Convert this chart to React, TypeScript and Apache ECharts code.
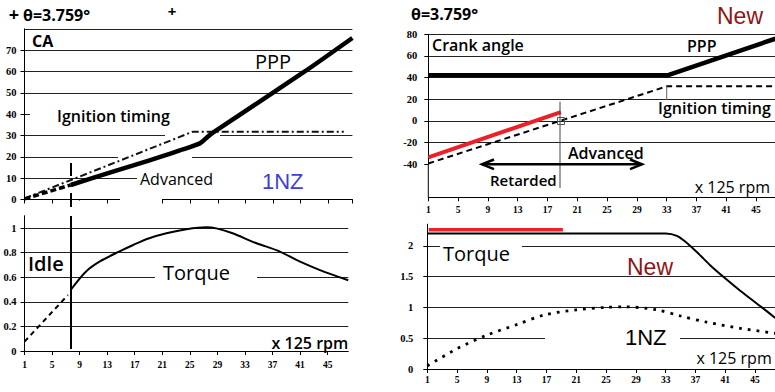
import React, { useEffect, useRef } from 'react';
import * as echarts from 'echarts';

// ---- x axis: engine speed index (x 125 rpm) ----
const rpmTickLabels = [1, 5, 9, 13, 17, 21, 25, 29, 33, 37, 41, 45];

// ---- Left panel: 1NZ engine ----
// crank angle chart (deg)
const nzPppIdleRpm = [1, 7.7];
const nzPppIdleDeg = [0.3, 6.8];
const nzPppRpm = [7.7, 13, 17, 21, 23.5, 25, 26.5, 27.5, 28.3, 41.6, 48.5];
const nzPppDeg = [6.8, 12.2, 16.2, 20.3, 23, 24.6, 26.5, 29.3, 31.3, 60, 75.7];
const nzIgnRpm = [1, 25.4, 47.25];
const nzIgnDeg = [0.5, 31.8, 31.8];
// torque chart (normalised)
const nzTqIdleRpm = [1, 7.3];
const nzTqIdle = [0.076, 0.455];
const nzTqRpm = [7.7, 9.9, 12, 14.8, 16.7, 19, 21.6, 24.5, 27.4, 29, 31.2, 34.5, 38, 41, 43.8, 48];
const nzTq = [0.496, 0.645, 0.73, 0.81, 0.86, 0.915, 0.957, 0.99, 1.006, 0.995, 0.957, 0.88, 0.81, 0.726, 0.66, 0.575];

// ---- Right panel: New engine ----
const newPppRpm = [1, 33.1, 47.6];
const newPppDeg = [42, 42, 76];
const newIgnRpm = [1, 33.1, 47.6];
const newIgnDeg = [-39.5, 32, 32];
const newRetRpm = [1, 18.8];
const newRetDeg = [-33.8, 8];
const newTqRpm = [1, 33, 34.5, 36, 37.5, 39, 40.7, 43, 45.9, 47.7];
const newTq = [2.2, 2.2, 2.16, 2.03, 1.86, 1.68, 1.5, 1.27, 1.0, 0.83];
const newTqRedRpm = [1.2, 19.2];
const newTqRed = [2.26, 2.26];
const nzTqDotRpm = [1, 5, 9, 13, 16.8, 21, 25, 27.5, 31.8, 35, 38.5, 43, 47.7];
const nzTqDot = [0.05, 0.33, 0.55, 0.72, 0.88, 0.96, 1.0, 1.01, 0.96, 0.86, 0.76, 0.66, 0.58];

const toPts = (rpm: number[], val: number[]) => rpm.map((r, i) => [r - 1, val[i]]);

const xLabelFont = { color: '#000', fontFamily: 'Liberation Serif', fontWeight: 'bold' as const, fontSize: 9.5 };
const yLabelFont = { color: '#000', fontFamily: 'Liberation Serif', fontWeight: 'bold' as const, fontSize: 10.5 };

const fmtX = (v: number) => {
  const r = Math.round(v);
  return Math.abs(v - r) < 1e-6 && rpmTickLabels.includes(r + 1) ? String(r + 1) : '';
};

function xAxis(gridIndex: number, max: number, showLabel: boolean, margin: number, offset = 0) {
  return {
    type: 'value', gridIndex, min: 0, max, interval: 4, offset,
    axisLine: { show: true, onZero: false, lineStyle: { color: '#000', width: 1 } },
    axisTick: { show: true, length: 4, lineStyle: { color: '#000' } },
    axisLabel: { show: showLabel, margin, formatter: fmtX, showMaxLabel: false, ...xLabelFont },
    splitLine: { show: false },
  };
}

function yAxis(gridIndex: number, min: number, max: number, interval: number, margin: number, showMaxLabel: boolean, showMaxLine: boolean) {
  return {
    type: 'value', gridIndex, min, max, interval,
    axisLine: { show: true, onZero: false, lineStyle: { color: '#000', width: 1 } },
    axisTick: { show: true, length: 4, lineStyle: { color: '#000' } },
    axisLabel: { margin, showMaxLabel, ...yLabelFont },
    splitLine: { show: true, showMinLine: false, showMaxLine, lineStyle: { color: '#222', width: 1 } },
  };
}

function line(idx: number, data: number[][], lineStyle: any, smooth: number | boolean = false) {
  return {
    type: 'line', xAxisIndex: idx, yAxisIndex: idx, data, symbol: 'none', showSymbol: false,
    smooth, lineStyle: { join: 'round', ...lineStyle }, z: 2, silent: true,
  };
}

function txt(text: string, x: number, y: number, size: number, weight: string | number = 'normal', color = '#000', align = 'left', family = 'Open Sans') {
  return {
    type: 'text', x, y, z: 10,
    style: { text, fontSize: size, fontFamily: family, fontWeight: weight, fill: color, align, verticalAlign: 'middle' },
  };
}
function white(x: number, y: number, w: number, h: number) {
  return { type: 'rect', z: 1, shape: { x, y, width: w, height: h }, style: { fill: '#fff' } };
}
function seg(x1: number, y1: number, x2: number, y2: number, w: number, color = '#000', z = 5) {
  return { type: 'line', z, shape: { x1, y1, x2, y2 }, style: { stroke: color, lineWidth: w } };
}

const option: any = {
  animation: false,
  backgroundColor: '#fff',
  grid: [
    { left: 24.5, top: 28.8, width: 327.9, height: 170.7 },
    { left: 24.5, top: 215.7, width: 323.8, height: 135.3 },
    { left: 428.3, top: 34.3, width: 346.7, height: 129.7 },
    { left: 427.3, top: 224.2, width: 347.7, height: 144.8 },
  ],
  xAxis: [
    xAxis(0, 47.5, false, 8),
    xAxis(1, 47.0, true, 9),
    xAxis(2, 46.54, true, 8, 33.3),
    xAxis(3, 46.67, true, 6),
  ],
  yAxis: [
    yAxis(0, 0, 80, 10, 8, false, true),
    yAxis(1, 0, 1.1, 0.2, 8, false, false),
    yAxis(2, -40, 80, 20, 11, true, true),
    yAxis(3, 0, 2.35, 0.5, 14, false, false),
  ],
  series: [
    // 1NZ crank angle
    line(0, toPts(nzIgnRpm, nzIgnDeg), { color: '#111', width: 2, type: [7, 3, 2, 3] }),
    line(0, toPts(nzPppIdleRpm, nzPppIdleDeg), { color: '#000', width: 3.5, type: [6, 3] }),
    line(0, toPts(nzPppRpm, nzPppDeg), { color: '#000', width: 4.5 }, 0.2),
    // 1NZ torque
    line(1, toPts(nzTqIdleRpm, nzTqIdle), { color: '#000', width: 2, type: [5, 4] }),
    line(1, toPts(nzTqRpm, nzTq), { color: '#000', width: 2 }, 0.3),
    // New crank angle
    line(2, toPts(newIgnRpm, newIgnDeg), { color: '#000', width: 2, type: [6, 4] }),
    line(2, toPts(newRetRpm, newRetDeg), { color: '#ee2027', width: 4 }),
    line(2, toPts(newPppRpm, newPppDeg), { color: '#000', width: 4.5 }),
    // New torque
    line(3, toPts(nzTqDotRpm, nzTqDot), { color: '#000', width: 2.8, type: [2.8, 6] }, 0.3),
    line(3, toPts(newTqRpm, newTq), { color: '#000', width: 2 }, 0.3),
    line(3, toPts(newTqRedRpm, newTqRed), { color: '#ee2027', width: 3.5 }),
  ],
  graphic: [
    // ---- top-left masks (gaps in grid lines)
    white(30, 110, 323, 8),
    white(165, 133, 55, 6),
    white(118, 154.5, 74, 6),
    white(137, 176, 216, 6),
    white(120, 195, 42, 13),
    white(77, 200.5, 6, 7),
    // ---- bottom-left masks
    white(155, 273, 102, 8),
    // ---- bottom-right masks
    white(440, 242, 82, 8),
    white(545, 334, 135, 8),

    // ---- top-left texts
    txt('+', 14, 14, 18, 'bold', '#000', 'center'),
    txt('+', 172, 11, 15, 'bold', '#000', 'center'),
    txt('θ=3.759°', 23, 15, 16, 'bold'),
    txt('CA', 32, 41, 16, 'bold'),
    txt('PPP', 255, 61, 20, 'normal'),
    txt('Ignition timing', 57, 115.5, 16, 600),
    txt('Advanced', 140, 178.7, 16, 'normal'),
    txt('1NZ', 262, 181, 22, 'normal', '#3f3fd8', 'left', 'Liberation Sans'),
    seg(71, 163, 71, 176, 2),
    seg(71, 193, 71, 207, 2),

    // ---- bottom-left
    seg(71, 216, 71, 349, 2),
    txt('Idle', 28, 263, 20, 600),
    txt('Torque', 163, 272.5, 20, 'normal'),
    txt('x 125 rpm', 348.3, 342.5, 16, 600, '#000', 'right'),

    // ---- top-right
    txt('θ=3.759°', 411, 14, 16, 'bold'),
    txt('New', 717, 16, 23, 'normal', '#8f1414', 'left', 'Liberation Sans'),
    txt('Crank angle', 432, 45.3, 16, 600),
    txt('PPP', 687, 45.8, 16, 600),
    txt('Ignition timing', 658, 108.3, 16, 600),
    txt('Advanced', 568, 152.8, 16, 600),
    txt('Retarded', 490, 179.5, 15, 600),
    txt('x 125 rpm', 770, 187, 16, 'normal', '#000', 'right'),
    seg(428.3, 164, 428.3, 197.3, 1),
    seg(560, 101.7, 560, 188, 1, '#444'),
    seg(666.7, 85, 666.7, 100, 1, '#666'),
    { type: 'rect', z: 6, shape: { x: 557.5, y: 117.5, width: 7, height: 7 }, style: { fill: 'none', stroke: '#555', lineWidth: 1 } },
    seg(482, 164.3, 560, 164.3, 2.5),
    seg(560, 164.3, 642, 164.3, 2.5),
    { type: 'polyline', z: 6, shape: { points: [[494, 159.5], [482, 164.3], [494, 169.1]] }, style: { stroke: '#000', lineWidth: 2.5, fill: null } },
    { type: 'polyline', z: 6, shape: { points: [[630, 159.5], [642, 164.3], [630, 169.1]] }, style: { stroke: '#000', lineWidth: 2.5, fill: null } },

    // ---- bottom-right
    txt('Torque', 443, 253.3, 20, 'normal'),
    txt('New', 627, 267, 23, 'normal', '#8f1414', 'left', 'Liberation Sans'),
    txt('1NZ', 625, 337.5, 22, 'normal', '#000', 'left', 'Liberation Sans'),
    txt('x 125 rpm', 771.7, 357.5, 16, 'normal', '#000', 'right'),
  ],
};

export default function App() {
  const ref = useRef<HTMLDivElement>(null);
  useEffect(() => {
    const chart = echarts.init(ref.current!, null, { renderer: 'svg' });
    chart.setOption(option);
    return () => chart.dispose();
  }, []);
  return (
    <div
      ref={ref}
      style={{ position: 'fixed', left: 0, top: 0, width: 775, height: 392, background: '#fff' }}
    />
  );
}
